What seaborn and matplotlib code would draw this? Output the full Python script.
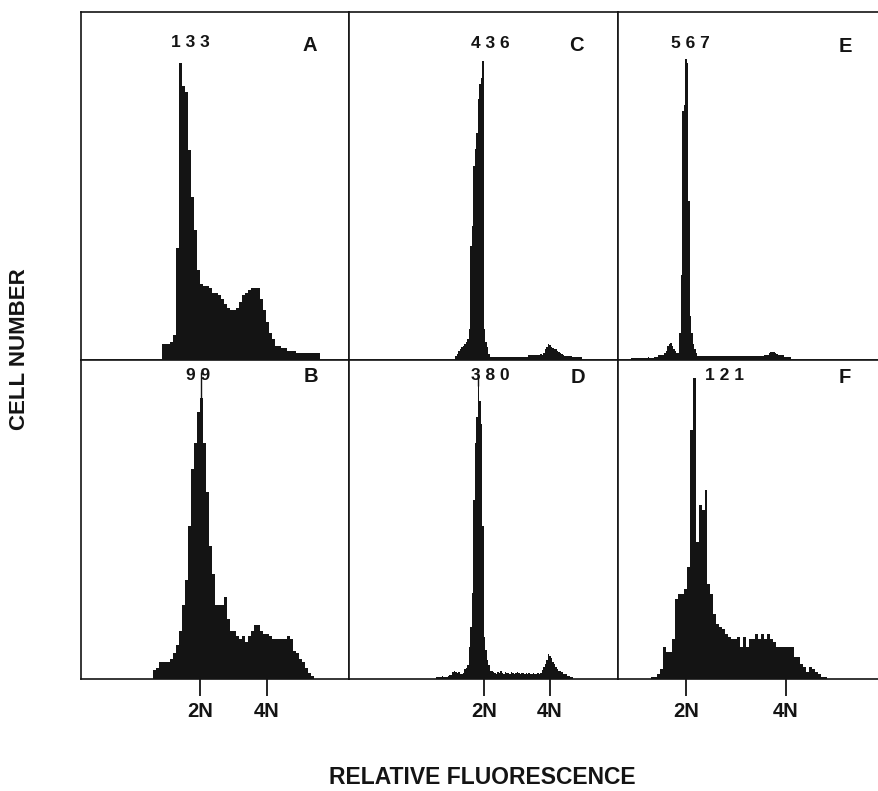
import numpy as np
import pandas as pd
import matplotlib
matplotlib.use("Agg")
import matplotlib.pyplot as plt
import seaborn as sns

# DNA content histograms, counts per channel
a_start, a_width = 54, 2
a_counts = [7, 7, 7, 8, 11, 50, 133, 123, 120, 94, 73, 58, 40, 34, 33,
            33, 32, 30, 30, 29, 27, 25, 23, 22, 22, 23, 26, 29, 30, 31,
            32, 32, 32, 27, 22, 17, 12, 9, 6, 6, 5, 5, 4, 4, 4,
            3, 3, 3, 3, 3, 3, 3, 3]

b_start, b_width = 48, 2
b_counts = [3, 4, 6, 6, 6, 6, 7, 9, 12, 17, 26, 35, 54, 74, 83,
            94, 99, 83, 66, 47, 37, 26, 26, 26, 29, 21, 17, 17, 15, 14,
            15, 13, 15, 17, 19, 19, 17, 16, 16, 15, 14, 14, 14, 14, 14,
            15, 14, 10, 9, 7, 6, 4, 2, 1]

c_start, c_width = 71, 1
c_counts = [5, 8, 12, 15, 18, 20, 23, 25, 30,
            45, 166, 195, 283, 307, 331, 380, 402, 410, 436, 45, 25, 18, 8,
            3, 4, 3, 3, 3, 4, 3, 3, 3, 3, 4, 3, 3, 3, 3, 3, 4, 3, 3, 3,
            3, 4, 3, 3, 3, 4,
            6, 7, 7, 7, 6, 7, 7, 7, 8, 7, 9,
            16, 18, 23, 21, 18, 17, 16, 15, 13, 11, 9, 8, 7,
            5, 5, 5, 5, 5,
            3, 3, 3, 3, 3, 3, 3]

d_start, d_width = 58, 1
d_counts = [2, 3, 3, 3, 4, 3, 3, 3, 4,
            5, 5,
            9, 10, 9, 8, 9,
            7, 7, 8,
            13, 14, 18,
            42, 68, 111, 232, 306, 340, 380, 360, 330, 198, 55, 38, 25, 18, 11, 11,
            9, 8, 7, 9, 8, 10, 8, 7, 9, 8, 8, 7, 9, 8, 7, 8, 9, 8, 7, 8,
            8, 7, 8, 7, 8, 7, 7, 8, 7, 7, 8, 7, 8,
            12, 15, 20, 25, 33, 30, 27, 22, 20, 16, 13,
            10, 10, 9, 7, 7, 6, 4, 4, 3, 3]

e_start, e_width = 9, 1
e_counts = [3, 3, 3, 3, 3, 3, 3, 3, 3, 3, 3, 4, 3, 3, 3, 4, 4, 4,
            8, 8, 8, 9,
            12, 16, 25, 30, 32, 25, 20, 16, 13, 13, 50, 160, 470, 480, 567,
            560, 300, 82, 50, 30, 20, 12,
            7, 6, 6, 6, 7, 6, 6, 6, 6, 7, 6, 6, 6, 6, 6, 7, 6, 6, 6, 6,
            6, 6, 7, 6, 6, 6, 6, 6, 7, 6, 6, 6, 6, 6, 6, 7, 6, 6, 6, 6,
            6, 7, 6, 6, 7,
            9, 9, 9,
            13, 14, 14, 14, 13,
            10, 9, 9, 9, 8,
            5, 5, 5, 5, 4]

f_start, f_width = 22, 2
f_counts = [1, 1, 2, 4, 13, 11, 11, 16, 32, 34, 34, 36, 45, 100, 121,
            55, 70, 68, 76, 38, 34, 26, 22, 21, 20, 18, 17, 16, 16, 17,
            13, 17, 13, 16, 16, 18, 16, 18, 16, 18, 16, 15, 13, 13, 13,
            13, 13, 13, 9, 9, 6, 5, 3, 5, 4, 3, 2, 1, 1]

panel_letters = ["A", "B", "C", "D", "E", "F"]
peak_labels = ["1 3 3", "9 9", "4 3 6", "3 8 0", "5 6 7", "1 2 1"]
tick_labels = ["2N", "4N"]
# channel of the 2N and 4N markers in each column
ploidy_ticks = [[79.6, 124.4], [90.0, 134.4], [45.8, 112.4]]
y_tops = [156, 112.5, 507, 414, 656, 128.4]
marker_tops = {"B": 108, "D": 397}

histos = [(a_start, a_width, a_counts), (b_start, b_width, b_counts),
          (c_start, c_width, c_counts), (d_start, d_width, d_counts),
          (e_start, e_width, e_counts), (f_start, f_width, f_counts)]

sns.set_style("white")
plt.rcParams["font.family"] = ["Liberation Sans", "DejaVu Sans"]
plt.rcParams["font.weight"] = "bold"

W, H = 879, 791
fig = plt.figure(figsize=(W / 100, H / 100), dpi=100)

col_left = [81, 349.5, 618]
col_w = 268.5
rows = [(12, 359.5), (359.5, 679)]
# label anchors in axes fraction: (number x, number y, letter x, letter y)
label_pos = [(0.406, 0.912, 0.853, 0.905), (0.436, 0.951, 0.855, 0.946),
             (0.524, 0.909, 0.846, 0.903), (0.526, 0.949, 0.852, 0.944),
             (0.271, 0.908, 0.845, 0.900), (0.398, 0.949, 0.845, 0.944)]

ink = "#141414"

for i, (start, width, counts) in enumerate(histos):
    col, row = i // 2, i % 2
    top, bot = rows[row]
    ax = fig.add_axes([col_left[col] / W, 1 - bot / H, col_w / W, (bot - top) / H])

    counts = np.array(counts, dtype=float)
    edges = start + width * np.arange(len(counts) + 1)
    centers = edges[:-1] + width / 2
    df = pd.DataFrame({"channel": centers, "cells": counts})
    sns.histplot(data=df, x="channel", weights="cells", bins=list(edges),
                 element="step", fill=True, color=ink, alpha=1, linewidth=0,
                 ax=ax)

    letter = panel_letters[i]
    if letter in marker_tops:
        k = int(np.argmax(counts))
        ax.vlines(centers[k] - width / 4, counts[k], marker_tops[letter],
                  color=ink, lw=1.0)

    ax.set_xlim(0, 180)
    ax.set_ylim(0, y_tops[i])
    ax.set_xlabel("")
    ax.set_ylabel("")
    ax.set_yticks([])

    nx, ny, lx, ly = label_pos[i]
    ax.text(nx, ny, peak_labels[i], transform=ax.transAxes, ha="center",
            va="center", fontsize=12.5, fontweight="bold", color=ink)
    ax.text(lx, ly, letter, transform=ax.transAxes, ha="center",
            va="center", fontsize=14.5, fontweight="bold", color=ink)

    if row == 1:
        ax.set_xticks(ploidy_ticks[col])
        ax.set_xticklabels(tick_labels, fontsize=14.5, fontweight="bold")
        ax.tick_params(axis="x", direction="out", bottom=True, length=12.5,
                       width=1.3, pad=4, color=ink, labelcolor=ink)
    else:
        ax.set_xticks([])

    for s in ax.spines.values():
        s.set_visible(True)
        s.set_color(ink)
        s.set_linewidth(1.2)

fig.text(20 / W, 1 - 349 / H, "CELL NUMBER", rotation=90, ha="center",
         va="center", fontsize=16, fontweight="bold", color=ink)
fig.text(482 / W, 1 - 777.5 / H, "RELATIVE FLUORESCENCE", ha="center",
         va="center", fontsize=16.5, fontweight="bold", color=ink)

fig.savefig("out.png", dpi=100)
